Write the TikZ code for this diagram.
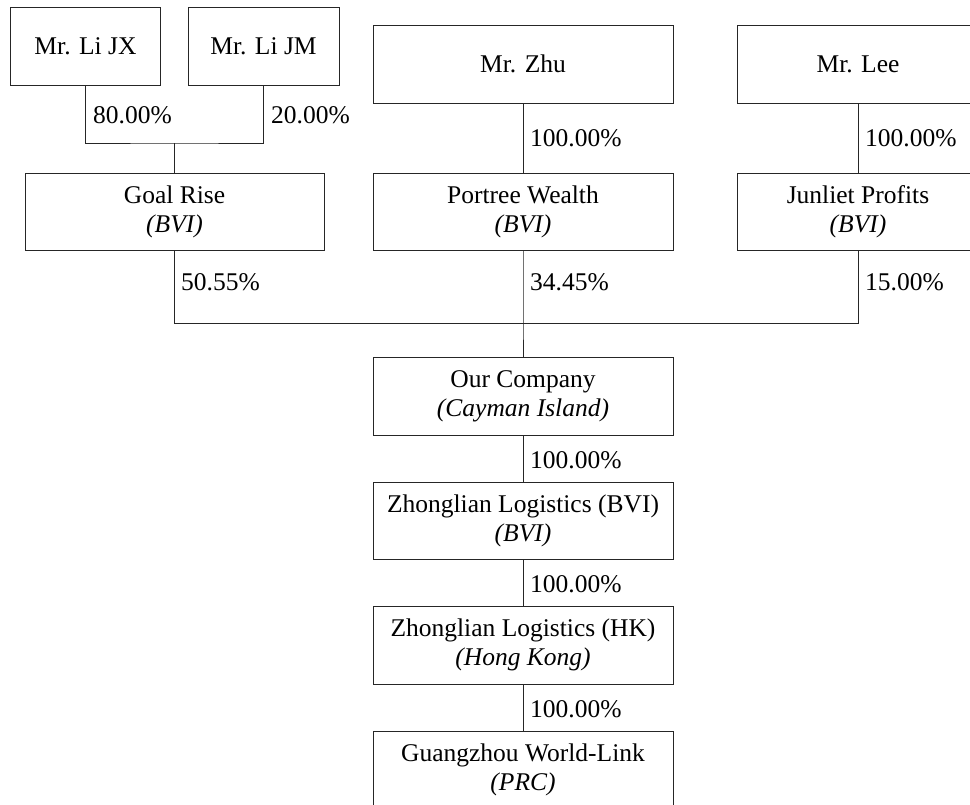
\documentclass[tikz,border=0pt]{standalone}
\usepackage{fontspec}
\setmainfont{Liberation Serif}
\begin{document}
\begin{tikzpicture}[x=1pt,y=-1pt,
  box/.style={draw=black!85,line width=0.9pt,rectangle,inner sep=0pt,align=center,
    font=\fontsize{25.5}{29}\selectfont},
  link/.style={draw=black!85,line width=0.9pt},
  pct/.style={anchor=west,inner sep=0pt,font=\fontsize{25.5}{29}\selectfont}]
\clip (0,0) rectangle (970,804);
% top row
\node[box,minimum width=150pt,minimum height=78pt] (jx) at (85.5,46) {Mr. Li JX};
\node[box,minimum width=151pt,minimum height=78pt] (jm) at (263.5,46) {Mr. Li JM};
\node[box,minimum width=300pt,minimum height=78pt] (zhu) at (523,64) {Mr. Zhu};
\node[box,minimum width=260pt,minimum height=78pt] (lee) at (867,64) {\hspace*{-18pt}Mr. Lee};
% second row
\node[box,minimum width=299pt,minimum height=77pt] (goal) at (174.5,211.5) {Goal Rise\\\textit{(BVI)}};
\node[box,minimum width=300pt,minimum height=77pt] (portree) at (523,211.5) {Portree Wealth\\\textit{(BVI)}};
\node[box,minimum width=260pt,minimum height=77pt] (junliet) at (867,211.5) {\hspace*{-18pt}Junliet Profits\\\hspace*{-18pt}\textit{(BVI)}};
% chain
\node[box,minimum width=300pt,minimum height=78pt] (our) at (523,396) {Our Company\\\textit{(Cayman Island)}};
\node[box,minimum width=300pt,minimum height=77pt] (zbvi) at (523,520.5) {Zhonglian Logistics (BVI)\\\textit{(BVI)}};
\node[box,minimum width=300pt,minimum height=78pt] (zhk) at (523,645) {Zhonglian Logistics (HK)\\\textit{(Hong Kong)}};
\node[box,minimum width=300pt,minimum height=78pt] (gz) at (523,770) {Guangzhou World-Link\\\textit{(PRC)}};
% junctions and connector points
\coordinate (j1) at (174.5,143);
\coordinate (j2) at (523,323);
\coordinate (leeb) at (858,103);
\coordinate (junt) at (858,173);
\coordinate (junb) at (858,250);
% connectors
\draw[link] (jx.south) |- (j1) -| (jm.south);
\draw[link] (j1) -- (goal.north);
\draw[link] (zhu.south) -- (portree.north);
\draw[link] (leeb) -- (junt);
\draw[link] (goal.south) |- (j2);
\draw[link] (junb) |- (j2);
\draw[link] (portree.south) -- (j2) -- (our.north);
\draw[link] (our.south) -- (zbvi.north);
\draw[link] (zbvi.south) -- (zhk.north);
\draw[link] (zhk.south) -- (gz.north);
% percentages
\node[pct] (p1) at (93,115) {80.00\%};
\node[pct] (p2) at (271,115) {20.00\%};
\node[pct] (p3) at (530,138) {100.00\%};
\node[pct] (p4) at (865,138) {100.00\%};
\node[pct] (p5) at (181,282) {50.55\%};
\node[pct] (p6) at (530,282) {34.45\%};
\node[pct] (p7) at (865,282) {15.00\%};
\node[pct] (p8) at (530,460) {100.00\%};
\node[pct] (p9) at (530,584) {100.00\%};
\node[pct] (p10) at (530,709) {100.00\%};
\end{tikzpicture}
\end{document}
